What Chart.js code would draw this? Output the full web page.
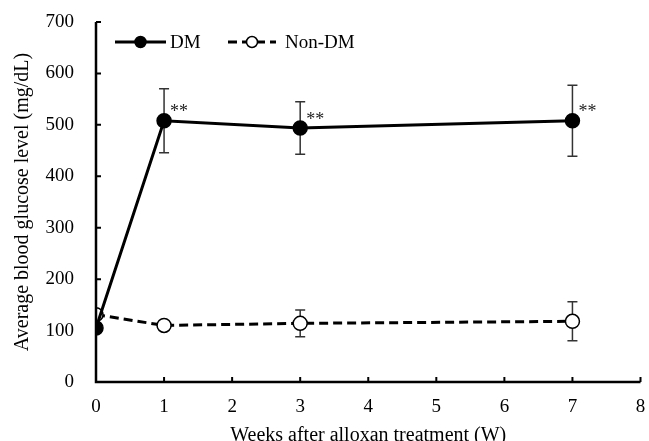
<!DOCTYPE html>
<html>
<head>
<meta charset="utf-8">
<script src="https://cdn.jsdelivr.net/npm/chart.js@4/dist/chart.umd.min.js"></script>
<style>
  html, body { margin: 0; padding: 0; background: #fff; }
  #wrap { width: 649px; height: 441px; }
</style>
</head>
<body>
<div id="wrap"><canvas id="glucoseChart"></canvas></div>
<script>
const weeks = [0, 1, 3, 7]
const dmMean = [105, 508, 494, 508]
const dmErr = [0, 62, 51, 69]
const nonDmMean = [131, 110, 114, 118]
const nonDmErr = [0, 8, 26, 38]
const dmMarks = ['', '**', '**', '**']

const serif = '"Liberation Serif", "Times New Roman", serif'
const toPoints = (xs, ys) => xs.map((x, i) => ({ x: x, y: ys[i] }))

// error bars, asterisks, inner ticks and the legend box
const extras = {
  id: 'extras',
  beforeLayout(chart) {
    // let the last x label hang off the plot like the original
    const x = chart.scales.x
    if (x) x.getPadding = () => ({ left: 0, top: 0, right: 0, bottom: 0 })
  },
  beforeDatasetsDraw(chart) {
    const { ctx } = chart
    const x = chart.scales.x
    const y = chart.scales.y
    ctx.save()
    ctx.strokeStyle = '#333'
    ctx.lineWidth = 1.5
    chart.data.datasets.forEach(ds => {
      ds.data.forEach((p, i) => {
        const e = ds.errors[i]
        if (!e) return
        const px = x.getPixelForValue(p.x)
        const top = y.getPixelForValue(p.y + e)
        const bot = y.getPixelForValue(p.y - e)
        ctx.beginPath()
        ctx.moveTo(px, top); ctx.lineTo(px, bot)
        ctx.moveTo(px - 5, top); ctx.lineTo(px + 5, top)
        ctx.moveTo(px - 5, bot); ctx.lineTo(px + 5, bot)
        ctx.stroke()
      })
    })
    ctx.restore()
  },
  afterDraw(chart) {
    const { ctx, chartArea } = chart
    const x = chart.scales.x
    const y = chart.scales.y
    ctx.save()
    // axes with inward ticks
    ctx.strokeStyle = '#000'
    ctx.lineWidth = 2.5
    ctx.beginPath()
    ctx.moveTo(chartArea.left, chartArea.top)
    ctx.lineTo(chartArea.left, chartArea.bottom)
    ctx.lineTo(chartArea.right, chartArea.bottom)
    ctx.stroke()
    ctx.lineWidth = 2
    ctx.beginPath()
    y.ticks.forEach(t => {
      const py = y.getPixelForValue(t.value)
      ctx.moveTo(chartArea.left, py); ctx.lineTo(chartArea.left + 5, py)
    })
    x.ticks.forEach(t => {
      const px = x.getPixelForValue(t.value)
      ctx.moveTo(px, chartArea.bottom); ctx.lineTo(px, chartArea.bottom - 5)
    })
    ctx.stroke()

    // significance marks
    ctx.fillStyle = '#222'
    ctx.font = '18px ' + serif
    ctx.textAlign = 'left'
    ctx.textBaseline = 'middle'
    const dm = chart.data.datasets[0]
    dm.data.forEach((p, i) => {
      if (!dmMarks[i]) return
      ctx.fillText(dmMarks[i], x.getPixelForValue(p.x) + 6, y.getPixelForValue(p.y) - 8)
    })

    // legend
    const ly = 42
    const items = [{ x0: 115, x1: 166, text: 170 }, { x0: 228, x1: 276, text: 285 }]
    ctx.font = '19px ' + serif
    chart.data.datasets.forEach((ds, i) => {
      const it = items[i]
      ctx.strokeStyle = ds.borderColor
      ctx.lineWidth = ds.borderWidth
      ctx.setLineDash(ds.borderDash || [])
      ctx.beginPath()
      ctx.moveTo(it.x0, ly); ctx.lineTo(it.x1, ly)
      ctx.stroke()
      ctx.setLineDash([])
      ctx.beginPath()
      ctx.arc((it.x0 + it.x1) / 2, ly, 5.5, 0, Math.PI * 2)
      ctx.fillStyle = ds.pointBackgroundColor
      ctx.fill()
      ctx.lineWidth = ds.pointBorderWidth
      ctx.strokeStyle = '#000'
      ctx.stroke()
      ctx.fillStyle = '#000'
      ctx.fillText(ds.label, it.text, ly + 1)
    })
    ctx.restore()
  }
}

const ctx = document.getElementById('glucoseChart')
new Chart(ctx, {
  type: 'scatter',
  data: {
    datasets: [{
      label: 'DM',
      data: toPoints(weeks, dmMean),
      errors: dmErr,
      showLine: true,
      borderColor: '#000',
      borderWidth: 3,
      pointRadius: 7,
      pointBackgroundColor: '#000',
      pointBorderColor: '#000',
      pointBorderWidth: 1.5
    }, {
      label: 'Non-DM',
      data: toPoints(weeks, nonDmMean),
      errors: nonDmErr,
      showLine: true,
      borderColor: '#000',
      borderWidth: 3,
      borderDash: [9, 5],
      pointRadius: 7,
      pointBackgroundColor: '#fff',
      pointBorderColor: '#000',
      pointBorderWidth: 1.5
    }]
  },
  options: {
    responsive: true,
    maintainAspectRatio: false,
    animation: false,
    layout: { padding: { top: 22, right: 4, left: 0, bottom: 0 } },
    scales: {
      x: {
        type: 'linear',
        min: 0,
        max: 8,
        border: { display: false },
        grid: { display: false, drawTicks: false },
        ticks: {
          stepSize: 1,
          color: '#000',
          padding: 14,
          font: { family: serif, size: 19 }
        },
        title: {
          display: true,
          text: 'Weeks after alloxan treatment (W)',
          color: '#000',
          padding: { top: 0, bottom: -7 },
          font: { family: serif, size: 20 }
        },
        afterFit: s => { s.height = 59; s.paddingRight = 0; s.paddingLeft = 0 }
      },
      y: {
        min: 0,
        max: 700,
        border: { display: false },
        grid: { display: false, drawTicks: false },
        ticks: {
          stepSize: 100,
          color: '#000',
          padding: 22,
          font: { family: serif, size: 19 }
        },
        title: {
          display: true,
          text: 'Average blood glucose level (mg/dL)',
          color: '#000',
          padding: { top: 11, bottom: 0 },
          font: { family: serif, size: 20 }
        },
        afterFit: s => { s.width = 96; s.paddingTop = 0; s.paddingBottom = 0 }
      }
    },
    plugins: {
      legend: { display: false },
      tooltip: { enabled: false }
    }
  },
  plugins: [extras]
})
</script>
</body>
</html>
